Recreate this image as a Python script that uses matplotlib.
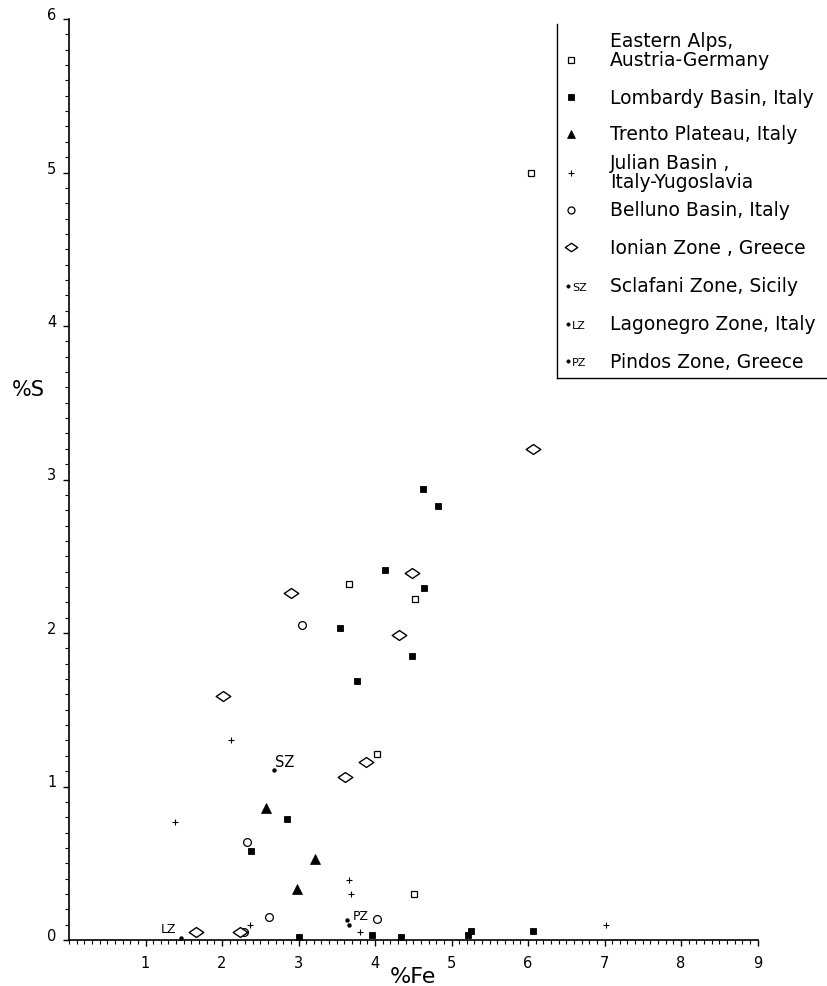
import matplotlib
matplotlib.use("Agg")
import matplotlib.pyplot as plt
from matplotlib.path import Path
from matplotlib.ticker import MultipleLocator

# ----------------------------
# Data (%Fe, %S)
# ----------------------------
eastern_alps_fe = [6.04, 3.66, 4.52, 4.02, 4.51]
eastern_alps_s = [5.00, 2.32, 2.22, 1.21, 0.30]

lombardy_fe = [4.63, 4.83, 4.13, 4.64, 3.54, 4.48, 3.77, 2.85, 2.38, 3.00, 3.96, 4.34, 5.22, 5.25, 6.06]
lombardy_s = [2.94, 2.83, 2.41, 2.29, 2.03, 1.85, 1.69, 0.79, 0.58, 0.02, 0.03, 0.02, 0.03, 0.06, 0.06]

trento_fe = [2.58, 3.21, 2.98]
trento_s = [0.86, 0.53, 0.33]

julian_fe = [2.12, 1.39, 3.66, 3.68, 2.37, 3.80, 7.02]
julian_s = [1.30, 0.77, 0.39, 0.30, 0.10, 0.05, 0.10]

belluno_fe = [3.04, 2.33, 2.61, 2.29, 4.02]
belluno_s = [2.05, 0.64, 0.15, 0.05, 0.14]

ionian_fe = [6.07, 4.49, 2.90, 4.32, 2.01, 3.88, 3.61, 1.66, 2.23]
ionian_s = [3.20, 2.39, 2.26, 1.99, 1.59, 1.16, 1.06, 0.05, 0.05]

sclafani_fe = [2.68]
sclafani_s = [1.11]
lagonegro_fe = [1.46]
lagonegro_s = [0.01]
pindos_fe = [3.64, 3.66]
pindos_s = [0.13, 0.10]

legend_labels = [
    "Eastern Alps,\nAustria-Germany",
    "Lombardy Basin, Italy",
    "Trento Plateau, Italy",
    "Julian Basin ,\nItaly-Yugoslavia",
    "Belluno Basin, Italy",
    "Ionian Zone , Greece",
    "Sclafani Zone, Sicily",
    "Lagonegro Zone, Italy",
    "Pindos Zone, Greece",
]
zone_tags = ["SZ", "LZ", "PZ"]

# flattened diamond used for the Ionian Zone
flat_diamond = Path([(-1, 0), (0, 0.68), (1, 0), (0, -0.68), (-1, 0)],
                    [Path.MOVETO, Path.LINETO, Path.LINETO, Path.LINETO, Path.CLOSEPOLY])

styles = [
    dict(marker="s", ms=4.6, mfc="white", mew=0.9),
    dict(marker="s", ms=5.0, mfc="black", mew=0.6),
    dict(marker="^", ms=7.0, mfc="black", mew=0.5),
    dict(marker="+", ms=4.2, mfc="black", mew=0.8),
    dict(marker="o", ms=5.6, mfc="white", mew=0.9),
    dict(marker=flat_diamond, ms=10.5, mfc="white", mew=1.0),
    dict(marker="o", ms=2.8, mfc="black", mew=0.3),
    dict(marker="o", ms=2.8, mfc="black", mew=0.3),
    dict(marker="o", ms=2.8, mfc="black", mew=0.3),
]
series = [
    (eastern_alps_fe, eastern_alps_s),
    (lombardy_fe, lombardy_s),
    (trento_fe, trento_s),
    (julian_fe, julian_s),
    (belluno_fe, belluno_s),
    (ionian_fe, ionian_s),
    (sclafani_fe, sclafani_s),
    (lagonegro_fe, lagonegro_s),
    (pindos_fe, pindos_s),
]

W, H = 828, 987
fig = plt.figure(figsize=(W / 100, H / 100), dpi=100)
ax = fig.add_axes([69 / W, 46 / H, 688.5 / W, 921 / H])

for (fe, s), st in zip(series, styles):
    ax.plot(fe, s, ls="none", mec="black", clip_on=False, zorder=3, **st)

# zone tags next to their dots
ax.annotate("SZ", (sclafani_fe[0], sclafani_s[0]), xytext=(1, 4), textcoords="offset pixels",
            fontsize=10.5, ha="left", va="baseline")
ax.annotate("LZ", (lagonegro_fe[0], lagonegro_s[0]), xytext=(-4, 6), textcoords="offset pixels",
            fontsize=9, ha="right", va="baseline")
ax.annotate("PZ", (pindos_fe[0], pindos_s[0]), xytext=(5, 1), textcoords="offset pixels",
            fontsize=9, ha="left", va="baseline")

# axes
ax.set_xlim(0, 9)
ax.set_ylim(0, 6)
ax.spines["top"].set_visible(False)
ax.spines["right"].set_visible(False)
ax.spines["left"].set_linewidth(1.2)
ax.spines["bottom"].set_linewidth(1.2)
ax.set_xticks(range(1, 10), labels=[str(i) for i in range(1, 10)], fontsize=10.5)
ax.set_yticks(range(0, 7), labels=[str(i) for i in range(0, 7)], fontsize=10.5, va="baseline")
ax.xaxis.set_minor_locator(MultipleLocator(0.1))
ax.yaxis.set_minor_locator(MultipleLocator(0.1))
ax.tick_params(which="major", direction="out", length=4.5, width=1.0)
ax.tick_params(axis="x", which="major", pad=6)
ax.tick_params(axis="y", which="major", pad=4.5)
ax.tick_params(which="minor", direction="out", length=2.8, width=0.8)

ax.set_xlabel("%Fe", fontsize=16, va="top")
ax.xaxis.set_label_coords(0.5, -0.028)
ax.set_ylabel("%S", fontsize=15, rotation=0, ha="center", va="center")
ax.yaxis.set_label_coords(-0.0588, 0.598)

# ----------------------------
# hand-drawn style legend (pixel coordinates)
# ----------------------------
leg = fig.add_axes([0, 0, 1, 1])
leg.set_xlim(0, W)
leg.set_ylim(H, 0)
leg.axis("off")
leg.plot([557, 557], [25, 379], color="black", lw=1.0)
leg.plot([557, W], [379, 379], color="black", lw=1.0)

text_y = [51, 98, 135, 173, 211, 248, 287, 325, 362]
marker_y = [61, 98, 135, 174, 211, 248, 287, 325, 362]
legend_scale = [0.8, 0.8, 0.75, 1.0, 0.9, 0.85, 0.9, 0.9, 0.9]
for i, lab in enumerate(legend_labels):
    st = dict(styles[i])
    st["ms"] = st["ms"] * legend_scale[i]
    mx = 568 if i >= 6 else 571
    leg.plot([mx], [marker_y[i]], ls="none", mec="black", **st)
    leg.text(610, text_y[i], lab, fontsize=13.5, ha="left", va="center", linespacing=1.0)
for j, tag in enumerate(zone_tags):
    leg.text(572, marker_y[6 + j] + 4, tag, fontsize=8, ha="left", va="baseline")

fig.savefig("out.png", dpi=100)
